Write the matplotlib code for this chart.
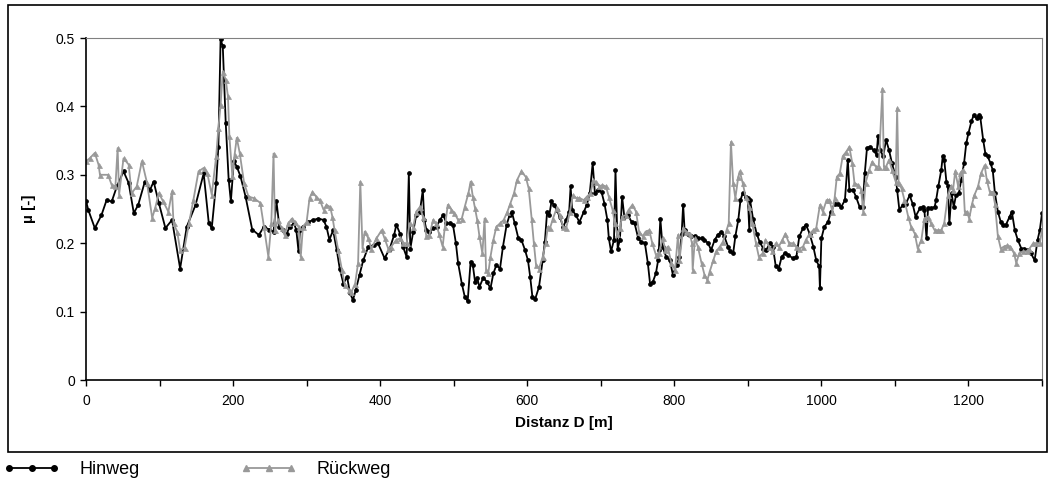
import matplotlib
matplotlib.use("Agg")
import matplotlib.pyplot as plt
from matplotlib.lines import Line2D
from matplotlib.patches import Rectangle
from matplotlib.ticker import MultipleLocator

plt.rcParams["font.family"] = ["Liberation Sans", "DejaVu Sans"]

# -----------------------------
# DATA
# -----------------------------

# Hinweg: distance [m] and friction coefficient
d_hin = [0, 3, 12, 21, 28, 35, 42, 51, 58, 65, 71, 80, 87, 92, 99, 108, 117, 128, 137, 149,
         160, 167, 171, 177, 180, 183, 186, 190, 194, 197, 201, 205, 210, 217, 226, 235, 242, 249,
         255, 259, 263, 268, 273, 277, 283, 286, 289, 291, 295, 302, 309, 316, 323, 327, 331, 336,
         341, 345, 350, 355, 359, 363, 367, 372, 377, 384, 391, 397, 406, 413, 419, 422,
         427, 431, 436, 439, 441, 445, 449, 454, 458, 460, 463, 467, 472, 477, 481, 486, 490, 495,
         499, 503, 506, 511, 515, 519, 523, 526, 529, 532, 535, 540, 545, 550, 554, 558, 563, 567,
         572, 576, 579, 583, 588, 592, 597, 601, 604, 607, 611, 616, 621, 624, 627, 630, 633, 636,
         640, 644, 649, 653, 657, 659, 661, 666, 671, 677, 681, 685, 689, 692, 696, 701, 705, 709,
         711, 714, 718, 720, 723, 726, 729, 732, 737, 742, 746, 751, 755, 760, 764, 767, 771, 775,
         778, 779, 781, 784, 789, 794, 798, 803, 807, 810, 812, 814, 819, 823, 828, 832, 837, 841,
         846, 850, 855, 859, 864, 868, 873, 876, 880, 883, 887, 890, 893, 897, 900, 902, 903, 907,
         912, 916, 921, 925, 930, 934, 938, 942, 946, 950, 955, 961, 966, 970, 975, 979, 984, 989,
         993, 997, 998, 1000, 1004, 1009, 1013, 1018, 1022, 1027, 1032, 1036, 1038, 1043, 1047,
         1052, 1056, 1059, 1062, 1066, 1071, 1075, 1077, 1080, 1084, 1088, 1092, 1096, 1101, 1103,
         1106, 1111, 1115, 1120, 1124, 1128, 1134, 1138, 1140, 1143, 1145, 1149, 1154, 1156, 1159,
         1163, 1165, 1167, 1170, 1172, 1174, 1177, 1180, 1183, 1187, 1190, 1194, 1197, 1200, 1204,
         1207, 1211, 1214, 1216, 1220, 1223, 1226, 1230, 1233, 1236, 1240, 1244, 1247, 1251, 1256,
         1259, 1263, 1267, 1272, 1276, 1281, 1285, 1290, 1294, 1297, 1300]
mu_hin = [0.262, 0.249, 0.222, 0.241, 0.263, 0.261, 0.283, 0.305, 0.288, 0.244, 0.256, 0.290,
          0.278, 0.290, 0.259, 0.222, 0.234, 0.163, 0.224, 0.256, 0.302, 0.229, 0.222, 0.288,
          0.341, 0.498, 0.488, 0.376, 0.293, 0.261, 0.320, 0.312, 0.298, 0.268, 0.220, 0.212,
          0.224, 0.220,
          0.217, 0.261, 0.224, 0.219, 0.214, 0.224, 0.229, 0.219, 0.188, 0.219, 0.224, 0.231,
          0.234, 0.236, 0.234, 0.224, 0.205, 0.219, 0.190, 0.163, 0.141, 0.151, 0.127, 0.117,
          0.132, 0.154, 0.175, 0.195, 0.197, 0.200, 0.178, 0.192, 0.212, 0.227,
          0.214, 0.195, 0.180, 0.302, 0.192, 0.217, 0.241, 0.246, 0.278, 0.234, 0.219, 0.217,
          0.222, 0.224, 0.234, 0.241, 0.229, 0.229, 0.227, 0.200, 0.171, 0.141, 0.122, 0.115,
          0.173, 0.168, 0.144, 0.149, 0.136, 0.149, 0.144, 0.134, 0.156, 0.168, 0.163, 0.195,
          0.227, 0.241, 0.246, 0.229, 0.207, 0.205, 0.190, 0.175, 0.151, 0.122, 0.119, 0.136,
          0.175, 0.202, 0.246, 0.241, 0.261, 0.256, 0.249, 0.239, 0.224, 0.234, 0.246, 0.283,
          0.249, 0.241, 0.231, 0.246, 0.256, 0.273, 0.317, 0.273, 0.278, 0.275, 0.258, 0.234,
          0.207, 0.188, 0.205, 0.307, 0.192, 0.205, 0.268, 0.239, 0.241, 0.231, 0.229, 0.207,
          0.202, 0.200, 0.171, 0.141, 0.144, 0.156, 0.175, 0.190, 0.236, 0.195, 0.180, 0.175,
          0.154, 0.168, 0.180, 0.214, 0.256, 0.219, 0.214, 0.210, 0.210, 0.207, 0.207, 0.205,
          0.200, 0.190, 0.205, 0.212, 0.217, 0.210, 0.195, 0.188, 0.185, 0.210, 0.234, 0.263,
          0.273, 0.268, 0.266, 0.219, 0.263, 0.236, 0.214, 0.202, 0.192, 0.190, 0.200, 0.195,
          0.166, 0.163, 0.180, 0.185, 0.183, 0.178, 0.180, 0.210, 0.222, 0.227, 0.214, 0.195,
          0.175, 0.166, 0.134, 0.207, 0.224, 0.231, 0.246, 0.258, 0.258, 0.253, 0.263, 0.322,
          0.278, 0.278, 0.268, 0.253, 0.253, 0.302, 0.339, 0.341, 0.336, 0.329, 0.356, 0.336,
          0.327, 0.351, 0.336, 0.317, 0.297, 0.278, 0.249, 0.256, 0.258, 0.270, 0.258, 0.239,
          0.251, 0.253, 0.249, 0.207, 0.251, 0.251, 0.253, 0.263, 0.283, 0.307, 0.327, 0.322,
          0.290, 0.283, 0.229, 0.273, 0.253, 0.270, 0.273, 0.292, 0.317, 0.346, 0.361, 0.378,
          0.387, 0.383, 0.387, 0.385, 0.351, 0.331, 0.327, 0.317, 0.307, 0.273, 0.246, 0.231,
          0.227, 0.227, 0.239, 0.246, 0.219, 0.205, 0.192, 0.192, 0.190, 0.185, 0.175, 0.205,
          0.219, 0.244]

# Rueckweg: distance [m] and friction coefficient
d_rueck = [0, 5, 12, 17, 19, 30, 35, 40, 43, 45, 51, 58, 62, 69, 76, 83, 90, 94, 99, 105, 112,
           117, 119, 124, 128, 134, 140, 146, 153, 160, 165, 171, 177, 180, 183, 186, 190, 193,
           195, 199, 202, 205, 209, 215, 221, 228, 237, 242, 248, 252, 255, 257, 261, 266, 270,
           275, 280, 284, 289, 292, 295, 300, 304, 308, 313, 318, 323, 327, 332, 335, 338, 343,
           348, 352, 357, 361, 366, 370, 373, 376, 379, 384, 388, 395, 402, 406, 411, 415, 422,
           427, 431, 436, 440, 445, 449, 454, 458, 463, 467, 472, 476, 480, 485, 488, 492, 497,
           501, 506, 511, 515, 520, 523, 526, 529, 532, 535, 539, 542, 544, 547, 550, 554, 558,
           563, 568, 573, 577, 582, 586, 592, 598, 602, 606, 609, 612, 616, 621, 625, 628, 631,
           635, 640, 644, 649, 653, 658, 662, 667, 671, 677, 681, 686, 690, 693, 698, 702, 707,
           711, 716, 719, 722, 726, 729, 734, 738, 743, 748, 752, 757, 761, 766, 770, 775, 779,
           784, 788, 791, 796, 801, 805, 807, 812, 816, 821, 824, 825, 828, 832, 837, 841, 845,
           848, 853, 857, 862, 866, 871, 874, 877, 880, 883, 887, 889, 893, 897, 902, 906, 911,
           915, 920, 924, 929, 933, 938, 942, 947, 951, 956, 961, 966, 970, 975, 979, 984, 989,
           993, 998, 1002, 1007, 1011, 1015, 1018, 1021, 1025, 1029, 1034, 1038, 1042, 1045, 1050,
           1054, 1057, 1060, 1065, 1069, 1074, 1078, 1083, 1085, 1088, 1092, 1096, 1101, 1103,
           1105, 1109, 1113, 1118, 1122, 1127, 1131, 1136, 1140, 1145, 1149, 1154, 1158, 1163,
           1167, 1172, 1176, 1179, 1182, 1186, 1189, 1192, 1195, 1198, 1201, 1205, 1208, 1213,
           1217, 1222, 1225, 1229, 1233, 1236, 1240, 1244, 1248, 1253, 1257, 1262, 1265, 1269,
           1274, 1279, 1283, 1288, 1292, 1297, 1300]
mu_rueck = [0.320, 0.324, 0.332, 0.315, 0.300, 0.300, 0.285, 0.283, 0.339, 0.271, 0.324, 0.315,
            0.273, 0.283, 0.320, 0.288, 0.237, 0.251, 0.273, 0.261, 0.246, 0.276, 0.229, 0.217,
            0.190, 0.193, 0.229, 0.263, 0.305, 0.310, 0.302, 0.271, 0.327, 0.368, 0.402, 0.451,
            0.439, 0.415, 0.356, 0.298, 0.329, 0.354, 0.332, 0.288, 0.268, 0.266, 0.259, 0.224,
            0.180, 0.229, 0.331, 0.219, 0.234, 0.222, 0.212, 0.229, 0.236, 0.231, 0.224, 0.180,
            0.224, 0.231, 0.266, 0.275, 0.268, 0.263, 0.249, 0.256, 0.253, 0.239, 0.219, 0.190,
            0.161, 0.139, 0.132, 0.129, 0.141, 0.171, 0.290, 0.192, 0.217, 0.207, 0.192, 0.207,
            0.219, 0.207, 0.192, 0.195, 0.205, 0.207, 0.200, 0.200, 0.229, 0.224, 0.246, 0.253,
            0.239, 0.210, 0.212, 0.234, 0.229, 0.214, 0.195, 0.224, 0.256, 0.249, 0.244, 0.234,
            0.236, 0.253, 0.273, 0.290, 0.268, 0.251, 0.234, 0.210, 0.185, 0.236, 0.161, 0.156,
            0.180, 0.205, 0.224, 0.229, 0.234, 0.246, 0.258, 0.273, 0.292, 0.305, 0.297, 0.280,
            0.236, 0.200, 0.168, 0.163, 0.180, 0.200, 0.224, 0.222, 0.236, 0.251, 0.241, 0.224,
            0.222, 0.246, 0.270, 0.266, 0.266, 0.263, 0.268, 0.273, 0.292, 0.290, 0.283, 0.285,
            0.283, 0.268, 0.249, 0.229, 0.214, 0.222, 0.239, 0.241, 0.249, 0.256, 0.246, 0.217,
            0.210, 0.217, 0.219, 0.200, 0.183, 0.185, 0.207, 0.190, 0.195, 0.171, 0.161, 0.212,
            0.175, 0.222, 0.217, 0.214, 0.200, 0.161, 0.207, 0.195, 0.171, 0.154, 0.146, 0.158,
            0.175, 0.188, 0.195, 0.202, 0.219, 0.229, 0.348, 0.288, 0.266, 0.297, 0.305, 0.288,
            0.268, 0.253, 0.229, 0.200, 0.180, 0.185, 0.205, 0.195, 0.188, 0.200, 0.195, 0.205,
            0.214, 0.200, 0.200, 0.195, 0.192, 0.195, 0.205, 0.214, 0.219, 0.222, 0.256, 0.246,
            0.263, 0.263, 0.246, 0.266, 0.297, 0.302, 0.327, 0.334, 0.341, 0.317, 0.288, 0.285,
            0.278, 0.246, 0.288, 0.307, 0.319, 0.312, 0.312, 0.426, 0.312, 0.312, 0.322, 0.307,
            0.290, 0.397, 0.288, 0.280, 0.263, 0.239, 0.224, 0.214, 0.192, 0.205, 0.236, 0.239,
            0.229, 0.219, 0.219, 0.219, 0.229, 0.270, 0.283, 0.278, 0.305, 0.283, 0.302, 0.307,
            0.246, 0.246, 0.236, 0.258, 0.270, 0.283, 0.302, 0.314, 0.292, 0.275, 0.275, 0.258,
            0.210, 0.192, 0.195, 0.197, 0.195, 0.185, 0.171, 0.185, 0.188, 0.188, 0.192, 0.200,
            0.200, 0.200, 0.219]

y_ticks = [0, 0.1, 0.2, 0.3, 0.4, 0.5]
y_tick_labels = ["0", "0.1", "0.2", "0.3", "0.4", "0.5"]

# -----------------------------
# FIGURE
# -----------------------------
W, H = 1053, 482
fig = plt.figure(figsize=(W / 100, H / 100), dpi=100)
ax = fig.add_axes([86 / W, 1 - 380 / H, (1042 - 86) / W, (380 - 38) / H])

gray = "#999999"
ax.plot(d_hin, mu_hin, color="black", lw=1.3, marker="o", ms=2.4, label="Hinweg")
ax.plot(d_rueck, mu_rueck, color=gray, lw=1.3, marker="^", ms=3.6,
        markeredgewidth=0.5, label="Rückweg")

ax.set_xlim(0, 1300)
ax.set_ylim(0, 0.5)
ax.xaxis.set_major_locator(MultipleLocator(200))
ax.xaxis.set_minor_locator(MultipleLocator(100))
ax.set_yticks(y_ticks)
ax.set_yticklabels(y_tick_labels)

ax.tick_params(axis="both", which="both", direction="out", labelsize=10, length=4, width=1,
               pad=6)
ax.tick_params(axis="y", pad=4)
ax.spines["top"].set_color("#808080")
ax.spines["right"].set_color("#808080")
for s in ["left", "bottom"]:
    ax.spines[s].set_linewidth(1.2)

ax.set_xlabel("Distanz D [m]", fontsize=11, fontweight="bold", labelpad=6)
ax.set_ylabel("µ [-]", fontsize=11, fontweight="bold", labelpad=14)

# outer chart border
fig.patches.append(Rectangle((8 / W, 1 - 452 / H), (1047 - 8) / W, (452 - 5) / H,
                             transform=fig.transFigure, fill=False, lw=1.2, color="black"))

# legend below the chart
handles = [Line2D([], [], color="black", lw=1.3, marker="o", ms=4),
           Line2D([], [], color=gray, lw=1.3, marker="^", ms=5)]
fig.legend(handles, ["Hinweg", "Rückweg"], loc="lower left", bbox_to_anchor=(0.0, 0.0),
           ncol=2, numpoints=3, frameon=False, fontsize=13, handlelength=3.1,
           columnspacing=5.6, handletextpad=1.1, borderaxespad=0.1, borderpad=0.1)

fig.savefig("out.png", dpi=100)
